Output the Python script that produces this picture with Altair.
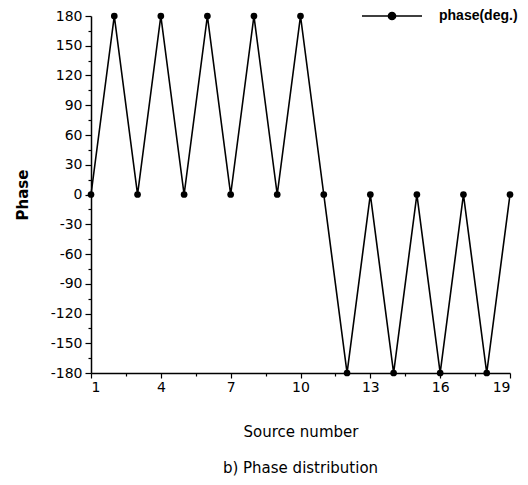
import altair as alt
import pandas as pd

source = list(range(1, 20))
phase = [0, 180, 0, 180, 0, 180, 0, 180, 0, 180, 0, -180, 0, -180, 0, -180, 0, -180, 0]
series = ["phase(deg.)"] * len(source)

x_ticks = [1 + 1.5 * i for i in range(13)]
y_ticks = [-180 + 15 * i for i in range(25)]

df = pd.DataFrame({"source": source, "phase": phase, "series": series})

FONT = "DejaVu Sans"

legend_path = "M-1,0H1M-0.12,0A0.12,0.12 0 1,1 0.12,0A0.12,0.12 0 1,1 -0.12,0Z"

base = alt.Chart(df).encode(
    x=alt.X(
        "source:Q",
        scale=alt.Scale(domain=[1, 19], nice=False, zero=False),
        axis=alt.Axis(
            title="Source number",
            values=x_ticks,
            labelExpr="(datum.value - 1) % 3 === 0 ? toString(datum.value) : ''",
            tickSize={"condition": {"test": "(datum.value - 1) % 3 === 0", "value": 5}, "value": 3},
            titlePadding=30,
            titleFontSize=15,
            titleFontWeight="normal",
            labelPadding=2,
        ),
    ),
    y=alt.Y(
        "phase:Q",
        scale=alt.Scale(domain=[-180, 180], nice=False),
        axis=alt.Axis(
            title="Phase",
            values=y_ticks,
            labelExpr="datum.value % 30 === 0 ? toString(datum.value) : ''",
            tickSize={"condition": {"test": "datum.value % 30 === 0", "value": 6}, "value": 3},
            titlePadding=20,
            titleFontSize=15,
            titleFontWeight="bold",
            labelPadding=3,
        ),
    ),
    color=alt.Color(
        "series:N",
        scale=alt.Scale(range=["black"]),
        legend=alt.Legend(
            title=None,
            orient="none",
            legendX=270,
            legendY=-31,
            symbolType=legend_path,
            symbolSize=3600,
            symbolFillColor="black",
            symbolStrokeColor="black",
            symbolStrokeWidth=1.5,
            labelFontSize=14,
            labelFontWeight="bold",
            labelOffset=16,
            labelFont="Liberation Sans",
            labelLimit=200,
            padding=0,
        ),
    ),
)

line = base.mark_line(strokeWidth=1.6)
pts = base.mark_point(filled=True, size=45, opacity=1)

chart = (
    alt.layer(line, pts)
    .properties(
        width=419,
        height=357,
        padding={"left": 83, "top": 8, "right": 10, "bottom": 104},
        autosize=alt.AutoSizeParams(type="none"),
        title=alt.TitleParams(
            "b) Phase distribution",
            orient="bottom",
            anchor="middle",
            fontSize=15,
            fontWeight="normal",
            font=FONT,
            offset=22,
        ),
    )
    .configure_view(stroke=None)
    .configure_axis(
        labelFont=FONT,
        titleFont=FONT,
        labelFontSize=14,
        labelColor="black",
        titleColor="black",
        domainColor="black",
        domainWidth=1.5,
        tickColor="black",
        tickWidth=1.2,
        grid=False,
    )
)

chart.save("out.html", embed_options={"renderer": "svg", "actions": False})
